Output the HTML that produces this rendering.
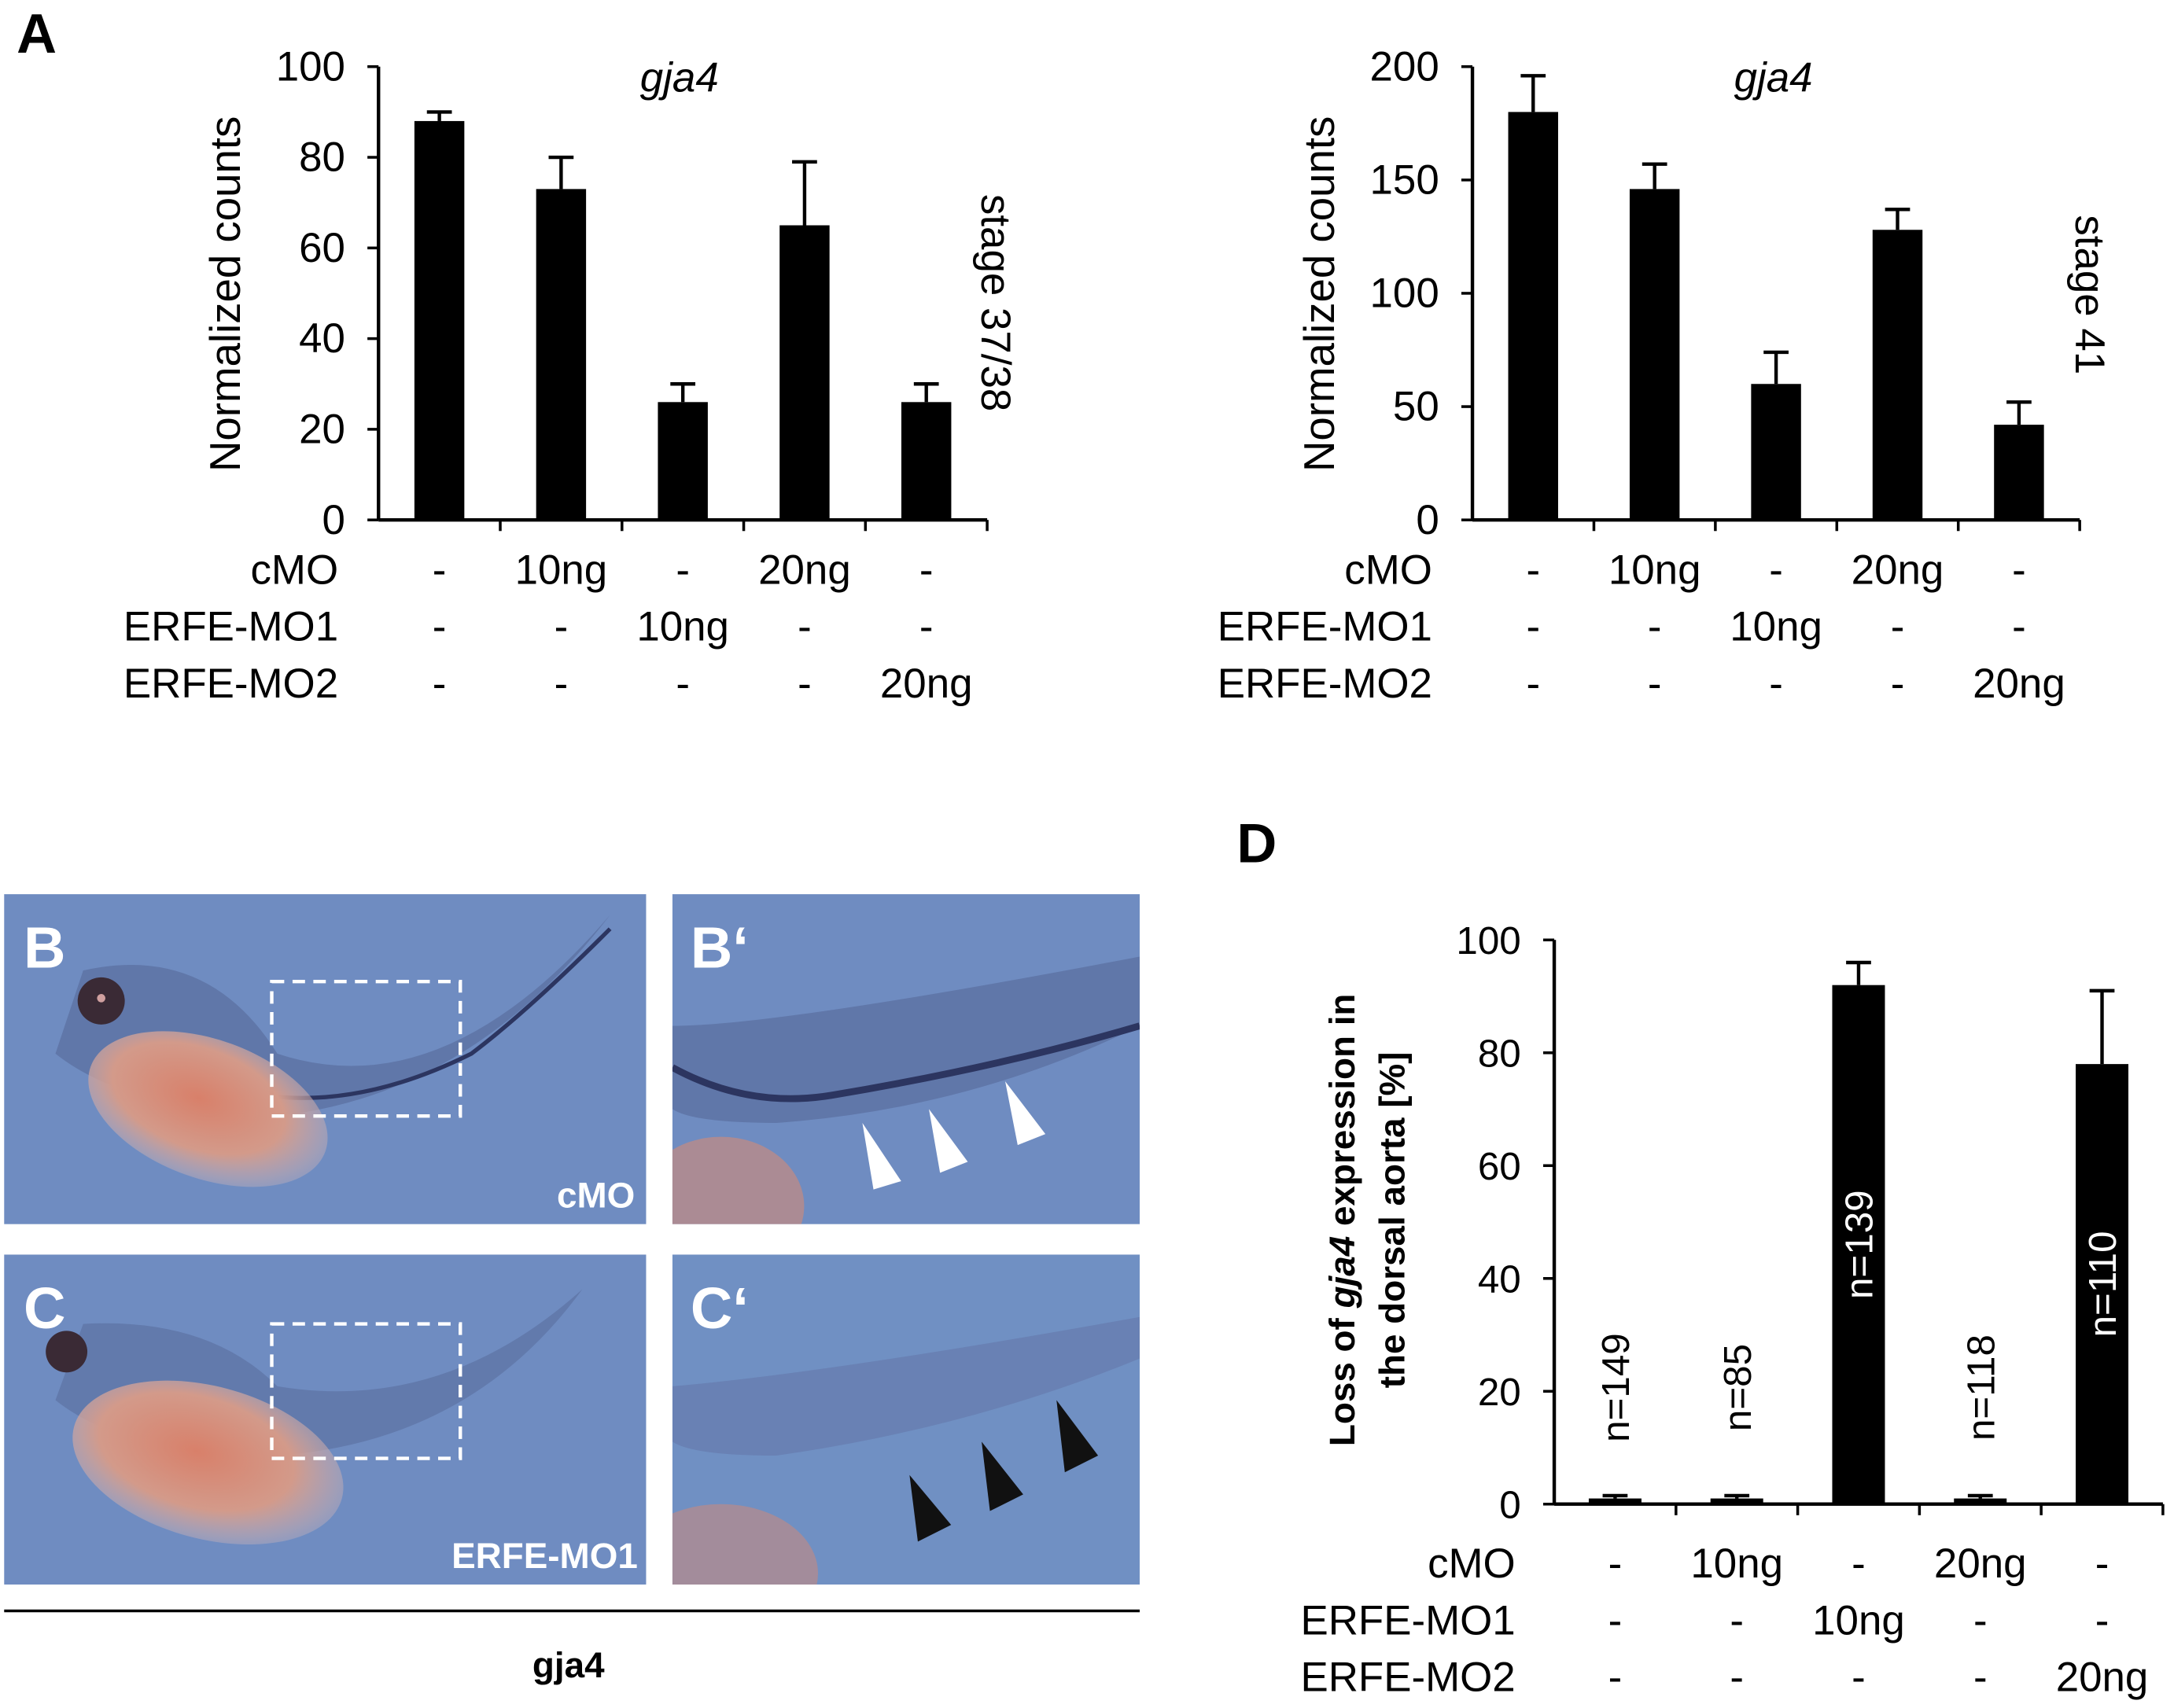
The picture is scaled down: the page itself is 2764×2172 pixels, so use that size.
<!DOCTYPE html>
<html><head><meta charset="utf-8"><style>
html,body{margin:0;padding:0;background:#fff}
svg{display:block}
text{font-family:"Liberation Sans",sans-serif;fill:#000}
</style></head><body>
<svg id="fig" width="2764" height="2172" viewBox="0 0 1568 1232" xmlns="http://www.w3.org/2000/svg">
<defs>
<radialGradient id="yolk" cx="0.45" cy="0.45" r="0.6"><stop offset="0" stop-color="#d8806a"/><stop offset="0.6" stop-color="#d39a8a"/><stop offset="1" stop-color="#c9b7c0" stop-opacity="0.3"/></radialGradient>
<clipPath id="cpB"><rect x="485" y="645" width="337" height="238"/></clipPath>
<clipPath id="cpC"><rect x="485" y="905" width="337" height="238"/></clipPath>
</defs>
<text x="12" y="38" font-size="40" font-weight="bold">A</text>
<text x="892" y="622" font-size="40" font-weight="bold">D</text>
<g id="c1"></g>
<g id="c2"></g>
<g id="c3"></g>

<g>
<rect x="3" y="645" width="463" height="238" fill="#6f8cc1"/>
<path d="M60 700 Q150 680 200 760 Q320 800 440 660 Q340 790 200 805 Q90 800 40 760 Z" fill="#5a6e9e" opacity="0.7"/>
<path d="M190 790 Q260 800 340 760 Q380 730 440 670" stroke="#2c3560" stroke-width="3" fill="none"/>
<ellipse cx="150" cy="800" rx="90" ry="50" transform="rotate(20 150 800)" fill="url(#yolk)"/>
<circle cx="73" cy="722" r="17" fill="#3a2a35"/><circle cx="73" cy="720" r="3" fill="#d0a0a0"/>
<rect x="196" y="708" width="136" height="97" fill="none" stroke="#fff" stroke-width="2.5" stroke-dasharray="9 6"/>
<text x="17" y="698" font-size="42" font-weight="bold" style="fill:#fff">B</text>
<text x="458" y="871" font-size="26" font-weight="bold" text-anchor="end" style="fill:#fff">cMO</text>
</g>
<g>
<rect x="485" y="645" width="337" height="238" fill="#6f8cc1"/>
<g clip-path="url(#cpB)">
<path d="M485 740 Q560 740 822 690 L822 740 Q700 800 560 810 Q500 810 485 800 Z" fill="#5a6e9e" opacity="0.7"/>
<path d="M485 770 Q540 800 600 790 Q720 770 822 740" stroke="#2c3560" stroke-width="5" fill="none"/>
<ellipse cx="520" cy="870" rx="60" ry="50" fill="#c58a80" opacity="0.7"/>
</g>
<polygon points="622,810 650,852 630,858" fill="#fff"/><polygon points="670,800 698,838 678,846" fill="#fff"/><polygon points="725,780 754,818 734,826" fill="#fff"/>
<text x="498" y="698" font-size="42" font-weight="bold" style="fill:#fff">B‘</text>
</g>
<g>
<rect x="3" y="905" width="463" height="238" fill="#6f8cc1"/>
<path d="M60 955 Q150 950 200 1000 Q320 1020 420 930 Q340 1040 200 1050 Q90 1050 40 1010 Z" fill="#5a6e9e" opacity="0.6"/>
<ellipse cx="150" cy="1055" rx="100" ry="55" transform="rotate(15 150 1055)" fill="url(#yolk)"/>
<circle cx="48" cy="975" r="15" fill="#3a2a35"/>
<rect x="196" y="955" width="136" height="97" fill="none" stroke="#fff" stroke-width="2.5" stroke-dasharray="9 6"/>
<text x="17" y="958" font-size="42" font-weight="bold" style="fill:#fff">C</text>
<text x="460" y="1131" font-size="26" font-weight="bold" text-anchor="end" style="fill:#fff">ERFE-MO1</text>
</g>
<g>
<rect x="485" y="905" width="337" height="238" fill="#7090c3"/>
<g clip-path="url(#cpC)">
<path d="M485 1000 Q600 990 822 950 L822 980 Q700 1030 560 1050 Q500 1050 485 1040 Z" fill="#6478aa" opacity="0.6"/>
<ellipse cx="520" cy="1135" rx="70" ry="50" fill="#c58a80" opacity="0.6"/>
</g>
<polygon points="656,1064 686,1100 662,1112" fill="#111"/><polygon points="708,1040 738,1078 714,1090" fill="#111"/><polygon points="762,1010 792,1050 768,1062" fill="#111"/>
<text x="498" y="958" font-size="42" font-weight="bold" style="fill:#fff">C‘</text>
</g>
<line x1="3" y1="1162" x2="822" y2="1162" stroke="#000" stroke-width="2"/>
<text x="410" y="1210" font-size="26" font-weight="bold" text-anchor="middle">gja4</text>
</svg>
<script>
const c1Values=[88,73,26,65,26];
const c1Err=[90,80,30,79,30];
const c1Ticks=[0,20,40,60,80,100];
const c2Values=[180,146,60,128,42];
const c2Err=[196,157,74,137,52];
const c2Ticks=[0,50,100,150,200];
const c3Values=[1,1,92,1,78];
const c3Err=[1.5,1.5,96,1.5,91];
const c3Ticks=[0,20,40,60,80,100];
const c3N=["n=149","n=85","n=139","n=118","n=110"];
const rowLabels=["cMO","ERFE-MO1","ERFE-MO2"];
const rowCells=[["-","10ng","-","20ng","-"],["-","-","10ng","-","-"],["-","-","-","-","20ng"]];
const NS="http://www.w3.org/2000/svg";
function mk(g,tag,attrs,txt){const e=document.createElementNS(NS,tag);for(const k in attrs)e.setAttribute(k,attrs[k]);if(txt!==undefined)e.textContent=txt;g.appendChild(e);return e;}
function chart(id,o){
 const g=document.getElementById(id);
 const y=v=>o.y0-(v/o.max)*(o.y0-o.y1);
 const step=(o.x1-o.ax)/5;
 const x=i=>o.ax+step*(i+0.5);
 let e=mk(g,'line',{x1:o.ax,y1:o.y1,x2:o.ax,y2:o.y0,stroke:'#000','stroke-width':2.5});
 
 e=mk(g,'line',{x1:o.ax,y1:o.y0,x2:o.x1,y2:o.y0,stroke:'#000','stroke-width':2.5});
 
 o.ticks.forEach(t=>{
  mk(g,'line',{x1:o.ax-8,y1:y(t),x2:o.ax,y2:y(t),stroke:'#000','stroke-width':2});
  e=mk(g,'text',{x:o.ax-24,y:y(t)+10,'font-size':o.fs,'text-anchor':'end'},t);
  
 });
 for(let i=1;i<=5;i++)mk(g,'line',{x1:o.ax+step*i,y1:o.y0,x2:o.ax+step*i,y2:o.y0+8,stroke:'#000','stroke-width':2});
 o.vals.forEach((v,i)=>{
  mk(g,'line',{x1:x(i),y1:y(o.err[i]),x2:x(i),y2:y(v),stroke:'#000','stroke-width':2.5});
  mk(g,'line',{x1:x(i)-9,y1:y(o.err[i]),x2:x(i)+9,y2:y(o.err[i]),stroke:'#000','stroke-width':2.5});
  e=mk(g,'rect',{x:x(i)-o.bw/2,y:y(v),width:o.bw,height:o.y0-y(v),fill:'#000'});
  
  if(o.n){const big=v>30;const ty=big?(y(v)+o.y0)/2:y(v)-80;
   e=mk(g,'text',{x:0,y:0,'font-size':28,'text-anchor':'middle',transform:`translate(${x(i)+10},${ty}) rotate(-90)`,style:big?'fill:#fff':''},o.n[i]);
   }
 });
 rowLabels.forEach((l,r)=>{const ry=o.y0+o.ry+r*41;
  e=mk(g,'text',{x:o.lx,y:ry,'font-size':30,'text-anchor':'end'},l);
  
  rowCells[r].forEach((c,i)=>{e=mk(g,'text',{x:x(i),y:ry,'font-size':30,'text-anchor':'middle'},c);
   });
 });
 e=mk(g,'text',{x:0,y:0,'font-size':o.tfs,'text-anchor':'middle','font-weight':o.tb?'bold':'normal',transform:`translate(${o.tx},${o.ty||(o.y0+o.y1)/2}) rotate(-90)`});
 
 if(o.title2){const a=mk(e,'tspan',{x:0,dy:-18});a.innerHTML='Loss of <tspan font-style="italic">gja4</tspan> expression in';mk(e,'tspan',{x:0,dy:36},'the dorsal aorta [%]');}
 else e.textContent=o.title;
 if(o.stage){e=mk(g,'text',{x:0,y:0,'font-size':30,transform:`translate(${o.sx},${o.sy}) rotate(90)`},o.stage);
  
  e=mk(g,'text',{x:o.ax+217,y:66,'font-size':30,'font-style':'italic','text-anchor':'middle'},'gja4');
  }
}
chart('c1',{ax:273,x1:712,y0:375,y1:48,max:100,vals:c1Values,err:c1Err,ticks:c1Ticks,bw:36,fs:30,lx:244,ry:46,tx:173,ty:212,title:'Normalized counts',tfs:31,stage:'stage 37/38',sx:708,sy:140});
chart('c2',{ax:1062,x1:1500,y0:375,y1:48,max:200,vals:c2Values,err:c2Err,ticks:c2Ticks,bw:36,fs:30,lx:1033,ry:46,tx:962,ty:212,title:'Normalized counts',tfs:31,stage:'stage 41',sx:1497,sy:155});
chart('c3',{ax:1121,x1:1560,y0:1085,y1:678,max:100,vals:c3Values,err:c3Err,ticks:c3Ticks,bw:38,fs:28,lx:1093,ry:53,tx:995,ty:880,title2:true,tfs:26,tb:true,n:c3N});
</script>
</body></html>
